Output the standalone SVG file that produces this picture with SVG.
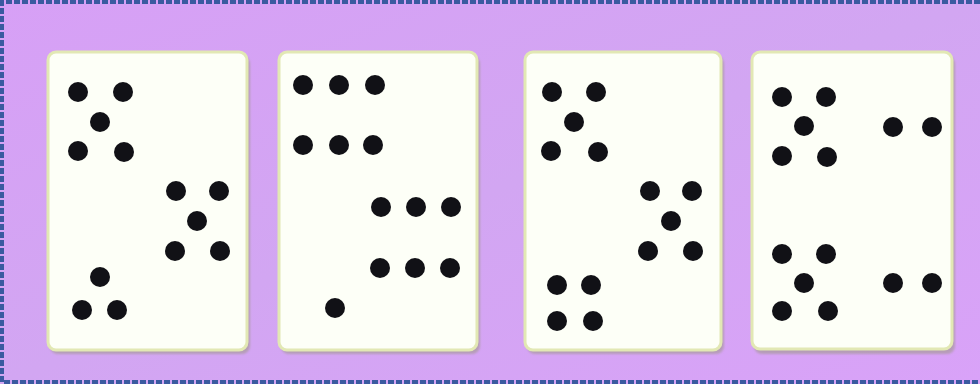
<svg xmlns="http://www.w3.org/2000/svg" width="980" height="384" viewBox="0 0 980 384">
<defs>
<linearGradient id="bg" x1="0" y1="0" x2="1" y2="1">
<stop offset="0" stop-color="#d7a0f6"/>
<stop offset="0.5" stop-color="#d2a6f2"/>
<stop offset="1" stop-color="#d9a2f8"/>
</linearGradient>
<filter id="sh" x="-10%" y="-10%" width="120%" height="120%">
<feGaussianBlur stdDeviation="1.2"/>
</filter>
</defs>
<style>
.card{fill:#fdfff7;stroke:#e2e8b4;stroke-width:3}
.shadow{fill:#a89a9c;opacity:0.7}
.d{fill:#111116}
.frame{fill:none;stroke:#3a5aa0;stroke-width:4;stroke-dasharray:6 2}
</style>
<rect x="0" y="0" width="980" height="384" fill="url(#bg)"/>
<path d="M980 2 H2 V382 H980" class="frame"/>
<g id="card1">
<rect x="50" y="56" width="200" height="298" rx="8" class="shadow" filter="url(#sh)"/>
<rect x="48" y="52" width="199" height="298" rx="8" class="card"/>
<circle class="d" cx="78" cy="92" r="10"/><circle class="d" cx="123" cy="92" r="10"/>
<circle class="d" cx="100" cy="122" r="10"/>
<circle class="d" cx="78" cy="151" r="10"/><circle class="d" cx="124" cy="152" r="10"/>
<circle class="d" cx="176" cy="191" r="10"/><circle class="d" cx="219" cy="191" r="10"/>
<circle class="d" cx="197" cy="221" r="10"/>
<circle class="d" cx="175" cy="251" r="10"/><circle class="d" cx="220" cy="251" r="10"/>
<circle class="d" cx="100" cy="277" r="10"/>
<circle class="d" cx="82" cy="310" r="10"/><circle class="d" cx="117" cy="310" r="10"/>
</g>
<g id="card2">
<rect x="281" y="56" width="199" height="298" rx="8" class="shadow" filter="url(#sh)"/>
<rect x="279" y="52" width="198" height="298" rx="8" class="card"/>
<circle class="d" cx="303" cy="85" r="10"/><circle class="d" cx="339" cy="85" r="10"/><circle class="d" cx="375" cy="85" r="10"/>
<circle class="d" cx="303" cy="145" r="10"/><circle class="d" cx="339" cy="145" r="10"/><circle class="d" cx="373" cy="145" r="10"/>
<circle class="d" cx="381" cy="207" r="10"/><circle class="d" cx="416" cy="207" r="10"/><circle class="d" cx="451" cy="207" r="10"/>
<circle class="d" cx="380" cy="268" r="10"/><circle class="d" cx="415" cy="268" r="10"/><circle class="d" cx="450" cy="268" r="10"/>
<circle class="d" cx="335" cy="308" r="10"/>
</g>
<g id="card3">
<rect x="527" y="56" width="197" height="298" rx="8" class="shadow" filter="url(#sh)"/>
<rect x="525" y="52" width="196" height="298" rx="8" class="card"/>
<circle class="d" cx="552" cy="92" r="10"/><circle class="d" cx="596" cy="92" r="10"/>
<circle class="d" cx="574" cy="122" r="10"/>
<circle class="d" cx="551" cy="151" r="10"/><circle class="d" cx="598" cy="152" r="10"/>
<circle class="d" cx="650" cy="191" r="10"/><circle class="d" cx="692" cy="191" r="10"/>
<circle class="d" cx="671" cy="221" r="10"/>
<circle class="d" cx="648" cy="251" r="10"/><circle class="d" cx="693" cy="251" r="10"/>
<circle class="d" cx="557" cy="285" r="10"/><circle class="d" cx="591" cy="285" r="10"/>
<circle class="d" cx="557" cy="321" r="10"/><circle class="d" cx="593" cy="321" r="10"/>
</g>
<g id="card4">
<rect x="754" y="56" width="201" height="298" rx="8" class="shadow" filter="url(#sh)"/>
<rect x="752" y="52" width="200" height="297" rx="8" class="card"/>
<circle class="d" cx="782" cy="97" r="10"/><circle class="d" cx="826" cy="97" r="10"/>
<circle class="d" cx="804" cy="126" r="10"/>
<circle class="d" cx="782" cy="156" r="10"/><circle class="d" cx="827" cy="157" r="10"/>
<circle class="d" cx="893" cy="127" r="10"/><circle class="d" cx="932" cy="127" r="10"/>
<circle class="d" cx="782" cy="254" r="10"/><circle class="d" cx="826" cy="254" r="10"/>
<circle class="d" cx="804" cy="283" r="10"/>
<circle class="d" cx="782" cy="311" r="10"/><circle class="d" cx="828" cy="311" r="10"/>
<circle class="d" cx="893" cy="283" r="10"/><circle class="d" cx="932" cy="283" r="10"/>
</g>
</svg>
